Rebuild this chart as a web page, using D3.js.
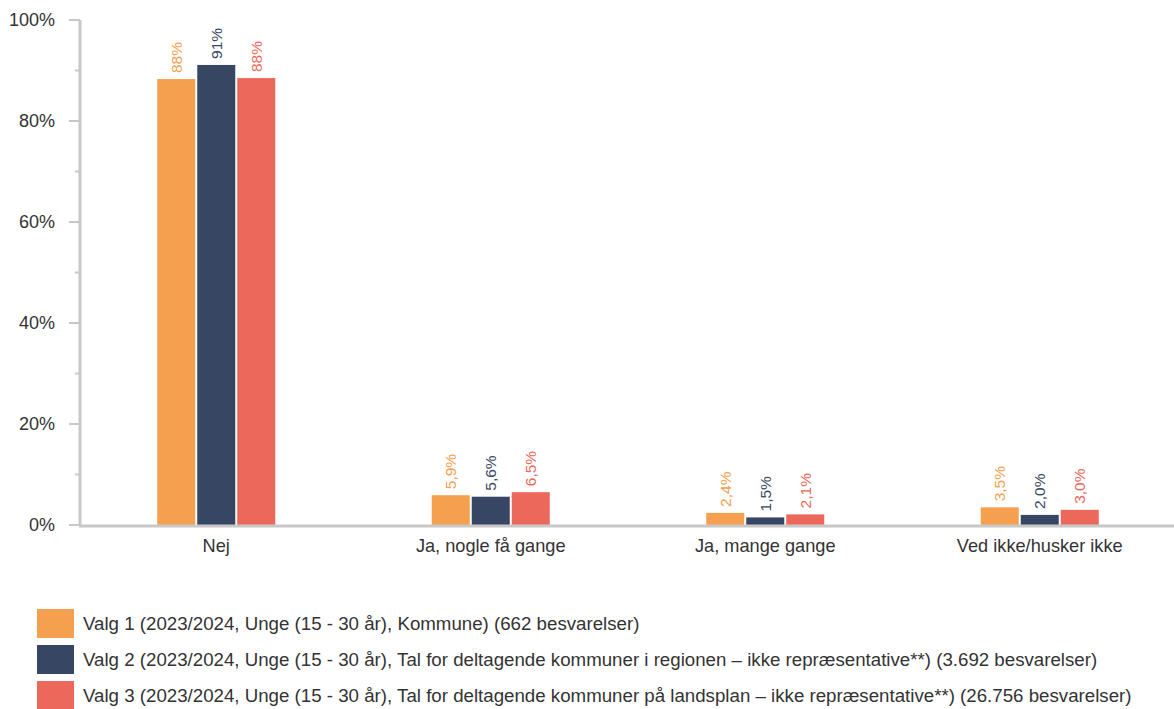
<!DOCTYPE html>
<html><head><meta charset="utf-8">
<script src="https://cdn.jsdelivr.net/npm/d3@7"></script>
<style>body{margin:0;background:#fff;font-family:"Liberation Sans",Arial,sans-serif;}</style>
</head><body><svg id="c" width="1174" height="709"></svg>
<script>
const categories = ["Nej", "Ja, nogle få gange", "Ja, mange gange", "Ved ikke/husker ikke"];
const seriesNames = [
  "Valg 1 (2023/2024, Unge (15 - 30 år), Kommune) (662 besvarelser)",
  "Valg 2 (2023/2024, Unge (15 - 30 år), Tal for deltagende kommuner i regionen – ikke repræsentative**) (3.692 besvarelser)",
  "Valg 3 (2023/2024, Unge (15 - 30 år), Tal for deltagende kommuner på landsplan – ikke repræsentative**) (26.756 besvarelser)"
];
const valg1 = [88.3, 5.9, 2.4, 3.5];
const valg2 = [91.1, 5.6, 1.5, 2.0];
const valg3 = [88.5, 6.5, 2.1, 3.0];
const labels1 = ["88%", "5,9%", "2,4%", "3,5%"];
const labels2 = ["91%", "5,6%", "1,5%", "2,0%"];
const labels3 = ["88%", "6,5%", "2,1%", "3,0%"];
const yTicks = [0, 20, 40, 60, 80, 100];
const yMinorTicks = [10, 30, 50, 70, 90];
const colors = ["#F4A04F", "#374763", "#EC685A"];

const series = [valg1, valg2, valg3];
const seriesLabels = [labels1, labels2, labels3];
const svg = d3.select("#c");
const x = d3.scaleBand().domain(categories).range([79, 1177]);
const y = d3.scaleLinear().domain([0, 100]).range([525, 20]);
const barW = 38, gap = 2;

// axes
const yAxis = svg.append("g");
yAxis.selectAll("line.maj").data(yTicks).join("line")
  .attr("x1", 69).attr("x2", 80).attr("y1", d => y(d)).attr("y2", d => y(d))
  .attr("stroke", "#c8c8c8").attr("stroke-width", 2);
yAxis.selectAll("line.min").data(yMinorTicks).join("line")
  .attr("x1", 75).attr("x2", 80).attr("y1", d => y(d)).attr("y2", d => y(d))
  .attr("stroke", "#c8c8c8").attr("stroke-width", 2);
yAxis.selectAll("text").data(yTicks).join("text")
  .attr("x", 55).attr("y", d => y(d)).attr("dy", "0.35em")
  .attr("text-anchor", "end").attr("font-size", 18).attr("fill", "#333")
  .text(d => d + "%");
svg.append("line").attr("x1", 80).attr("x2", 80).attr("y1", y(100)).attr("y2", 526)
  .attr("stroke", "#c8c8c8").attr("stroke-width", 3);

// bars
series.forEach((vals, si) => {
  const g = svg.append("g");
  const off = (si - 1) * (barW + gap) - barW / 2;
  g.selectAll("rect").data(categories).join("rect")
    .attr("x", d => x(d) + x.bandwidth() / 2 + off)
    .attr("width", barW)
    .attr("y", (d, i) => y(vals[i]))
    .attr("height", (d, i) => y(0) - y(vals[i]))
    .attr("fill", colors[si]);
  g.selectAll("text").data(categories).join("text")
    .attr("transform", (d, i) => `translate(${x(d) + x.bandwidth() / 2 + off + barW / 2},${y(vals[i]) - 6}) rotate(-90)`)
    .attr("dy", "0.35em")
    .attr("font-size", 15.5).attr("fill", colors[si])
    .text((d, i) => seriesLabels[si][i]);
});

svg.append("line").attr("x1", 79).attr("x2", 1174).attr("y1", 526).attr("y2", 526)
  .attr("stroke", "#c8c8c8").attr("stroke-width", 3);

svg.append("g").selectAll("text").data(categories).join("text")
  .attr("x", d => x(d) + x.bandwidth() / 2).attr("y", 552)
  .attr("text-anchor", "middle").attr("font-size", 18.2).attr("fill", "#333")
  .text(d => d);

// legend
const lg = svg.append("g");
seriesNames.forEach((n, i) => {
  lg.append("rect").attr("x", 37).attr("y", 609 + i * 36).attr("width", 37).attr("height", 29).attr("fill", colors[i]);
  lg.append("text").attr("x", 83).attr("y", 623.5 + i * 36).attr("dy", "0.35em")
    .attr("font-size", 18.7).attr("fill", "#333").text(n);
});
</script></body></html>
